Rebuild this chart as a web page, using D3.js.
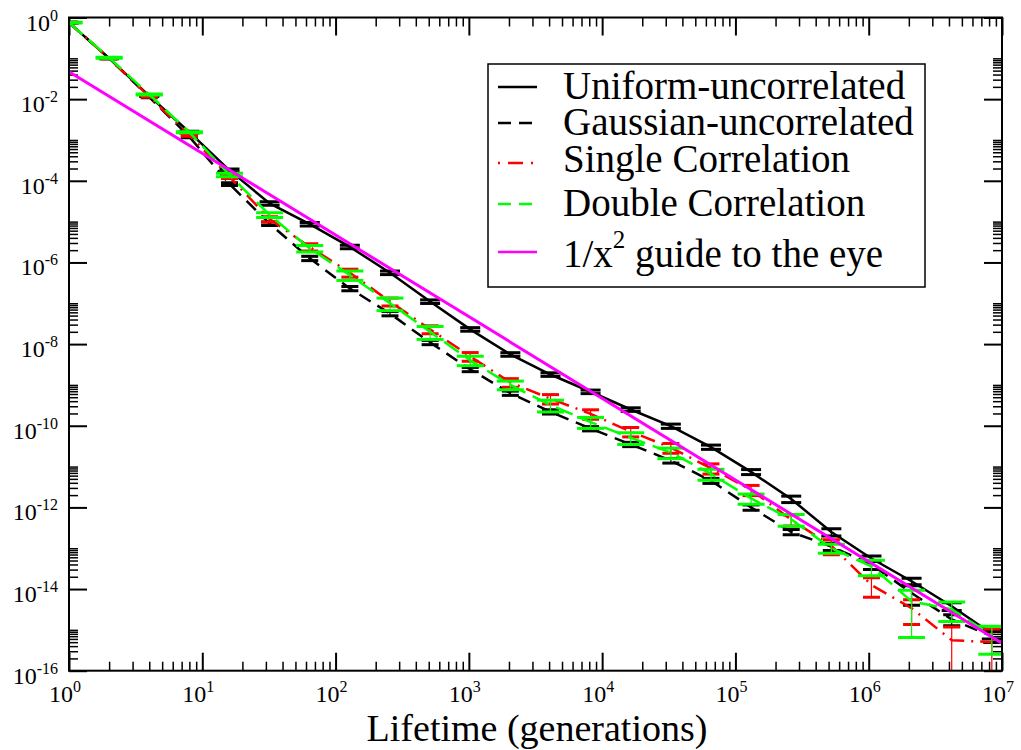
<!DOCTYPE html>
<html>
<head>
<meta charset="utf-8">
<script src="https://cdn.jsdelivr.net/npm/d3@7"></script>
<style>
  body { margin: 0; background: #fff; }
  svg { display: block; font-family: "Liberation Serif", "Times New Roman", serif; }
</style>
</head>
<body>
<div id="chart"></div>
<script>
// lifetime bins (generations), one point per power of two
const lifetimes = [1, 2, 4, 8, 16, 32, 64, 128, 256, 512, 1024, 2048, 4096, 8192, 16384,
    32768, 65536, 131072, 262144, 524288, 1048576, 2097152, 4194304, 8388608];

// probability values
const uniformVals = [0.75, 0.1, 0.012, 1.55e-3, 1.8e-4, 2.8e-5, 8.7e-6, 2.4e-6, 5.6e-7, 1.1e-7,
    2.3e-8, 5.6e-9, 1.8e-9, 6.8e-10, 2.5e-10, 9.8e-11, 3.0e-11, 7.4e-12, 1.6e-12, 2.5e-13,
    5.6e-14, 1.55e-14, 3.8e-15, 8e-16];
const gaussianVals = [0.75, 0.1, 0.0112, 1.2e-3, 8.3e-5, 8.9e-6, 1.26e-6, 2.3e-7, 5.6e-8, 1.1e-8,
    2.4e-9, 6.3e-10, 2.2e-10, 8.5e-11, 3.5e-11, 1.4e-11, 4.5e-12, 1.0e-12, 2.5e-13, 1.1e-13,
    4.0e-14, 8e-15, 1.8e-15, 7e-16];
const singleVals = [0.75, 0.1, 0.0115, 1.3e-3, 1.26e-4, 1.15e-5, 2.4e-6, 5.6e-7, 1.1e-7, 2.3e-8,
    5e-9, 1.15e-9, 4.6e-10, 1.95e-10, 7.2e-11, 2.9e-11, 9.1e-12, 2.7e-12, 5e-13, 1.15e-13,
    1.26e-14, 3.4e-15, 5.6e-16, 5e-16];
const doubleVals = [0.75, 0.103, 0.013, 1.54e-3, 1.4e-4, 1.45e-5, 2.2e-6, 4.9e-7, 1.0e-7, 2.0e-8,
    4e-9, 1e-9, 3.2e-10, 1.23e-10, 5.1e-11, 2.2e-11, 6.6e-12, 1.66e-12, 5.1e-13, 1.0e-13,
    3.6e-14, 5e-15, 3.2e-15, 7.4e-16];

// relative error (error / value) for each point
const uniformErr = [0.02, 0.03, 0.03, 0.05, 0.08, 0.1, 0.1, 0.1, 0.1, 0.1, 0.1, 0.1, 0.1, 0.1,
    0.1, 0.12, 0.12, 0.14, 0.18, 0.2, 0.15, 0.18, 0.22, 0.25];
const gaussianErr = [0.02, 0.03, 0.03, 0.05, 0.08, 0.1, 0.12, 0.12, 0.12, 0.12, 0.12, 0.12, 0.12,
    0.12, 0.12, 0.13, 0.14, 0.15, 0.15, 0.2, 0.25, 0.5, 0.3, 0.3];
const singleErr = [0.02, 0.03, 0.03, 0.05, 0.1, 0.15, 0.2, 0.22, 0.22, 0.22, 0.24, 0.24, 0.26,
    0.26, 0.26, 0.27, 0.28, 0.28, 0.3, 0.4, 0.5, 0.6, 1.1, 1.1];
const doubleErr = [0.02, 0.03, 0.03, 0.03, 0.1, 0.13, 0.18, 0.26, 0.34, 0.35, 0.26, 0.24, 0.32,
    0.3, 0.32, 0.29, 0.3, 0.28, 0.32, 0.25, 0.41, 0.87, 0.5, 0.66];

// 1/x^2 guide line end points
const guideX = [1, 1e7];
const guideY = [0.047, 4.7e-16];

const xMajor = [1, 10, 100, 1e3, 1e4, 1e5, 1e6, 1e7];
const yMajorExp = [0, -2, -4, -6, -8, -10, -12, -14, -16];
const legendLabels = ["Uniform-uncorrelated", "Gaussian-uncorrelated", "Single Correlation",
    "Double Correlation", "1/x"];

const width = 1021, height = 750;
const plot = { left: 69, right: 1002, top: 17.5, bottom: 670.7 };

const svg = d3.select("#chart").append("svg")
    .attr("width", width)
    .attr("height", height);

const x = d3.scaleLog().domain([1, 1e7]).range([plot.left, plot.right]);
const y = d3.scaleLog().domain([1e-16, 1]).range([plot.bottom, plot.top]);

svg.append("clipPath").attr("id", "clip")
    .append("rect")
    .attr("x", plot.left).attr("y", plot.top)
    .attr("width", plot.right - plot.left).attr("height", plot.bottom - plot.top);

// minor tick values
const xMinor = [];
for (let k = 0; k < 7; k++) {
    for (let m = 2; m <= 9; m++) xMinor.push(m * Math.pow(10, k));
}
const yMinor = [];
yMajorExp.forEach(e => {
    for (let m = 2; m <= 10; m++) {
        const v = m * Math.pow(10, e);
        if (v < 1) yMinor.push(v);
    }
});

// ticks drawn with d3 axes, all pointing inwards
function tickAxis(axisFn, scale, values, size, transform, w) {
    svg.append("g")
        .attr("transform", transform)
        .call(axisFn(scale).tickValues(values).tickSize(size).tickSizeOuter(0).tickFormat(""))
        .call(g => g.select(".domain").remove())
        .call(g => g.selectAll("line").attr("stroke", "#000").attr("stroke-width", w));
}
tickAxis(d3.axisBottom, x, xMajor, -18, `translate(0,${plot.bottom})`, 2);
tickAxis(d3.axisBottom, x, xMinor, -9, `translate(0,${plot.bottom})`, 1.5);
tickAxis(d3.axisTop, x, xMajor, -18, `translate(0,${plot.top})`, 2);
tickAxis(d3.axisTop, x, xMinor, -9, `translate(0,${plot.top})`, 1.5);
const yMajor = yMajorExp.map(e => Math.pow(10, e));
tickAxis(d3.axisLeft, y, yMajor, -18, `translate(${plot.left},0)`, 2);
tickAxis(d3.axisLeft, y, yMinor, -9, `translate(${plot.left},0)`, 1.5);
tickAxis(d3.axisRight, y, yMajor, -18, `translate(${plot.right},0)`, 2);
tickAxis(d3.axisRight, y, yMinor, -9, `translate(${plot.right},0)`, 1.5);

// tick labels with superscript exponents
xMajor.forEach((v, i) => {
    const t = svg.append("text")
        .attr("x", x(v) - 4)
        .attr("y", plot.bottom + 31)
        .attr("text-anchor", "middle")
        .attr("font-size", 24);
    t.append("tspan").text("10");
    t.append("tspan").attr("font-size", 16).attr("dy", -10).text(i);
});
yMajorExp.forEach(e => {
    const t = svg.append("text")
        .attr("x", 58)
        .attr("y", y(Math.pow(10, e)) + 13)
        .attr("text-anchor", "end")
        .attr("font-size", 24);
    t.append("tspan").text("10");
    t.append("tspan").attr("font-size", 16).attr("dy", -10).text(e === 0 ? "0" : e);
});

svg.append("text")
    .attr("x", 537)
    .attr("y", 741)
    .attr("text-anchor", "middle")
    .attr("font-size", 38)
    .text("Lifetime (generations)");

// series drawing
const series = [
    { vals: uniformVals, err: uniformErr, color: "#000000", dash: null, cap: 10 },
    { vals: gaussianVals, err: gaussianErr, color: "#000000", dash: "13,8", cap: 8.5 },
    { vals: singleVals, err: singleErr, color: "#ff0000", dash: "15,7,2,7", cap: 8.5 },
    { vals: doubleVals, err: doubleErr, color: "#00ff00", dash: "18,8", cap: 13.5 }
];

const plotArea = svg.append("g").attr("clip-path", "url(#clip)");

const line = d3.line()
    .x(d => x(d[0]))
    .y(d => y(d[1]));

series.forEach(s => {
    const pts = lifetimes.map((lt, i) => [lt, s.vals[i], s.err[i]]);
    plotArea.append("path")
        .datum(pts)
        .attr("d", line)
        .attr("fill", "none")
        .attr("stroke", s.color)
        .attr("stroke-width", 2.5)
        .attr("stroke-dasharray", s.dash);

    const bars = plotArea.append("g")
        .selectAll("g")
        .data(pts)
        .enter()
        .append("g");

    const upper = d => y(d[1] * (1 + d[2]));
    const lower = d => (d[2] >= 1 ? plot.bottom + 5 : y(d[1] * (1 - d[2])));

    bars.append("line")
        .attr("x1", d => x(d[0])).attr("x2", d => x(d[0]))
        .attr("y1", upper).attr("y2", lower)
        .attr("stroke", s.color).attr("stroke-width", 1.2);
    bars.append("line")
        .attr("x1", d => x(d[0]) - s.cap).attr("x2", d => x(d[0]) + s.cap)
        .attr("y1", upper).attr("y2", upper)
        .attr("stroke", s.color).attr("stroke-width", 3);
    bars.filter(d => d[2] < 1).append("line")
        .attr("x1", d => x(d[0]) - s.cap).attr("x2", d => x(d[0]) + s.cap)
        .attr("y1", lower).attr("y2", lower)
        .attr("stroke", s.color).attr("stroke-width", 3);
});

// 1/x^2 guide
plotArea.append("path")
    .datum(guideX.map((gx, i) => [gx, guideY[i]]))
    .attr("d", line)
    .attr("fill", "none")
    .attr("stroke", "#ff00ff")
    .attr("stroke-width", 3);

// frame
svg.append("rect")
    .attr("x", plot.left).attr("y", plot.top)
    .attr("width", plot.right - plot.left).attr("height", plot.bottom - plot.top)
    .attr("fill", "none").attr("stroke", "#000").attr("stroke-width", 2);

// legend
const legend = svg.append("g");
legend.append("rect")
    .attr("x", 488).attr("y", 64).attr("width", 437).attr("height", 223)
    .attr("fill", "#fff").attr("stroke", "#000").attr("stroke-width", 1.5);

const legendStyles = [
    { color: "#000000", dash: null },
    { color: "#000000", dash: "13,8" },
    { color: "#ff0000", dash: "2,8,15,8" },
    { color: "#00ff00", dash: "13,8" },
    { color: "#ff00ff", dash: null }
];
const legendBase = [99, 135, 172, 216, 267];
const legendLineY = [87, 123, 163, 204, 252];

legendLabels.forEach((lab, i) => {
    legend.append("line")
        .attr("x1", 498).attr("x2", 537)
        .attr("y1", legendLineY[i]).attr("y2", legendLineY[i])
        .attr("stroke", legendStyles[i].color)
        .attr("stroke-width", 2.5)
        .attr("stroke-dasharray", legendStyles[i].dash);
    const t = legend.append("text")
        .attr("x", 563).attr("y", legendBase[i])
        .attr("font-size", 39);
    t.append("tspan").text(lab);
    if (i === 4) {
        t.append("tspan").attr("font-size", 25).attr("dy", -19).text("2");
        t.append("tspan").attr("dy", 19).text(" guide to the eye");
    }
});
</script>
</body>
</html>
